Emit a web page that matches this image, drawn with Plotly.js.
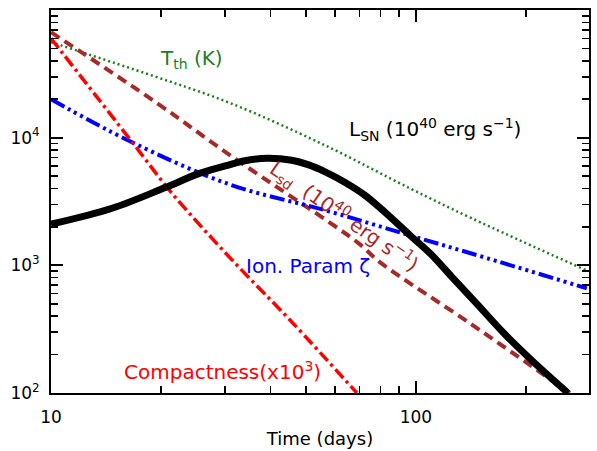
<!DOCTYPE html>
<html>
<head>
<meta charset="utf-8">
<script src="https://cdn.plot.ly/plotly-3.0.1.min.js"></script>
<style>html,body{margin:0;padding:0;background:#fff;}#chart{width:597px;height:451px;}</style>
</head>
<body>
<div id="chart"></div>
<script>
// ---- data (time in days) ----
var snTime = [10, 14.7, 20.5, 25.3, 30, 34, 39.3, 45.7, 50.6, 56.4, 63.8, 72.4, 82.2, 96.3, 110, 125, 145, 175, 210, 261];
var snLum  = [2100, 2800, 4050, 5200, 6000, 6600, 6900, 6650, 6150, 5400, 4480, 3550, 2610, 1720, 1220, 820, 520, 290, 175, 100];

var thTime = [10, 18.1, 30.9, 56.4, 96.4, 142, 294];
var thTemp = [56000, 32000, 18700, 8700, 4000, 2340, 910];

var sdTime = [10, 19.6, 30.9, 69.4, 79.6, 142, 264];
var sdLum  = [67000, 18500, 7300, 1500, 1060, 345, 100];

var ionTime  = [10, 16.3, 30.9, 56.4, 96, 157, 294];
var ionParam = [20000, 9500, 4300, 2700, 1720, 1135, 660];

var cmpTime = [10, 16.7, 21.4, 30.9, 45.7, 68.9];
var cmpVal  = [60000, 9200, 3700, 1150, 360, 100];

var xTickVals = [10, 100];
var xTickText = ["10", "100"];
var xMinorVals = [20, 30, 40, 50, 60, 70, 80, 90, 200];
var yTickVals = [100, 1000, 10000, 100000];
var yTickText = ["10<sup>2</sup>", "10<sup>3</sup>", "10<sup>4</sup>", "10<sup>5</sup>"];
var yMinorVals = [200, 300, 400, 500, 600, 700, 800, 900,
                  2000, 3000, 4000, 5000, 6000, 7000, 8000, 9000,
                  20000, 30000, 40000, 50000, 60000, 70000, 80000, 90000];

var FONT = "DejaVu Sans, Arial, sans-serif";

var traces = [
  {x: thTime, y: thTemp, mode: "lines", line: {color: "#1e7d1e", width: 2.5, dash: "2px,3px", shape: "spline"}},
  {x: sdTime, y: sdLum, mode: "lines", line: {color: "#a52a2a", width: 4, dash: "10px,6px", shape: "spline"}},
  {x: ionTime, y: ionParam, mode: "lines", line: {color: "#0000ff", width: 4, dash: "15px,4px,3px,4px,3px,4px,3px,4px", shape: "spline"}},
  {x: cmpTime, y: cmpVal, mode: "lines", line: {color: "#ff0000", width: 3.5, dash: "12px,4px,3px,4px", shape: "spline"}},
  {x: snTime, y: snLum, mode: "lines", line: {color: "#000000", width: 7, shape: "spline"}}
];

function px2x(px) { return (px - 51) / 538; }
function px2y(py) { return (393 - py) / 383; }

var annos = [
  {text: "T<sub>th</sub> (K)", x: px2x(191), y: px2y(59), color: "#1e7d1e", angle: 0},
  {text: "L<sub>SN</sub> (10<sup>40</sup> erg s<sup>−1</sup>)", x: px2x(435), y: px2y(129), color: "#000000", angle: 0},
  {text: "Ion. Param ζ", x: px2x(308), y: px2y(266), color: "#0000ff", angle: 0},
  {text: "Compactness(x10<sup>3</sup>)", x: px2x(222), y: px2y(371), color: "#ff0000", angle: 0},
  {text: "L<sub>sd</sub>  (10<sup>40</sup> erg s<sup>−1</sup>)", x: px2x(344), y: px2y(217), color: "#a52a2a", angle: 35}
].map(function (a) {
  return {text: a.text, x: a.x, y: a.y, xref: "paper", yref: "paper", showarrow: false,
          xanchor: "center", yanchor: "middle", textangle: a.angle,
          font: {family: FONT, size: 20, color: a.color}};
});

var minorCommon = {tickmode: "array", ticks: "inside", ticklen: 7, tickwidth: 1.5, tickcolor: "#000", showgrid: false};

var axisCommon = {
  type: "log", showgrid: false, zeroline: false,
  showline: true, linecolor: "#000", linewidth: 2, mirror: "ticks",
  ticks: "inside", ticklen: 12, tickwidth: 2, tickcolor: "#000",
  tickfont: {family: FONT, size: 17, color: "#000"}
};

var layout = {
  width: 597, height: 451,
  margin: {l: 51, r: 8, t: 10, b: 58},
  paper_bgcolor: "#fff", plot_bgcolor: "#fff",
  showlegend: false,
  xaxis: Object.assign({}, axisCommon, {
    range: [1, Math.log10(298)], tickmode: "array", tickvals: xTickVals, ticktext: xTickText,
    minor: Object.assign({}, minorCommon, {tickvals: xMinorVals}),
    ticklabelstandoff: 8,
    title: {text: "Time (days)", font: {family: FONT, size: 18, color: "#000"}, standoff: 6}
  }),
  yaxis: Object.assign({}, axisCommon, {
    range: [2, 5], tickmode: "array", tickvals: yTickVals, ticktext: yTickText,
    minor: Object.assign({}, minorCommon, {tickvals: yMinorVals}),
    ticklabelstandoff: 6
  }),
  annotations: annos
};

Plotly.newPlot("chart", traces, layout, {staticPlot: true, displayModeBar: false});
</script>
</body>
</html>
